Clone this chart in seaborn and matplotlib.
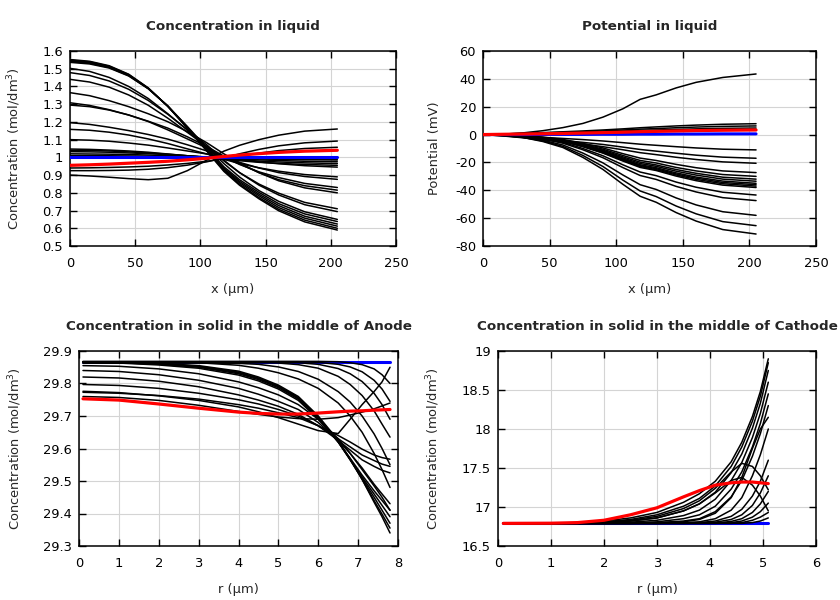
import matplotlib
matplotlib.use("Agg")
import matplotlib.pyplot as plt
import pandas as pd
import seaborn as sns
from matplotlib.ticker import FuncFormatter, MultipleLocator

sns.set_theme(style="white")
plt.rcParams["font.family"] = ["DejaVu Sans"]

# ---------------- Panel 1: concentration in liquid ----------------
X_LIQ = [0, 15, 30, 45, 60, 75, 90, 105, 118, 130, 145, 160, 180, 205]
CONC_LIQ_BLACK = [
    [1.552, 1.542, 1.517, 1.469, 1.392, 1.288, 1.164, 1.034, 0.921, 0.843, 0.766, 0.699, 0.636, 0.590],
    [1.548, 1.539, 1.514, 1.467, 1.390, 1.288, 1.166, 1.038, 0.926, 0.849, 0.773, 0.707, 0.646, 0.600],
    [1.544, 1.535, 1.511, 1.464, 1.389, 1.289, 1.168, 1.043, 0.933, 0.857, 0.783, 0.717, 0.657, 0.612],
    [1.540, 1.531, 1.507, 1.461, 1.388, 1.289, 1.171, 1.047, 0.939, 0.865, 0.792, 0.728, 0.668, 0.624],
    [1.536, 1.527, 1.504, 1.459, 1.387, 1.290, 1.174, 1.053, 0.947, 0.874, 0.802, 0.739, 0.681, 0.638],
    [1.502, 1.485, 1.451, 1.400, 1.332, 1.246, 1.153, 1.059, 0.965, 0.889, 0.812, 0.752, 0.693, 0.650],
    [1.478, 1.462, 1.431, 1.384, 1.321, 1.243, 1.157, 1.070, 0.984, 0.914, 0.843, 0.788, 0.733, 0.694],
    [1.440, 1.425, 1.396, 1.352, 1.294, 1.221, 1.141, 1.060, 0.980, 0.914, 0.849, 0.798, 0.746, 0.710],
    [1.365, 1.348, 1.320, 1.286, 1.246, 1.201, 1.145, 1.082, 1.020, 0.969, 0.913, 0.868, 0.828, 0.800],
    [1.308, 1.293, 1.269, 1.239, 1.204, 1.165, 1.116, 1.061, 1.007, 0.963, 0.914, 0.874, 0.840, 0.815],
    [1.295, 1.286, 1.267, 1.239, 1.202, 1.155, 1.104, 1.053, 1.002, 0.960, 0.918, 0.886, 0.853, 0.830],
    [1.196, 1.186, 1.170, 1.151, 1.129, 1.103, 1.071, 1.036, 1.001, 0.972, 0.940, 0.914, 0.892, 0.876],
    [1.158, 1.153, 1.142, 1.126, 1.104, 1.078, 1.048, 1.019, 0.989, 0.965, 0.941, 0.922, 0.903, 0.890],
    [1.100, 1.097, 1.091, 1.081, 1.069, 1.053, 1.036, 1.019, 1.002, 0.988, 0.974, 0.964, 0.953, 0.945],
    [1.047, 1.045, 1.041, 1.036, 1.029, 1.019, 1.009, 0.999, 0.989, 0.981, 0.972, 0.966, 0.960, 0.955],
    [1.040, 1.039, 1.036, 1.031, 1.025, 1.018, 1.009, 1.001, 0.993, 0.986, 0.979, 0.974, 0.969, 0.965],
    [1.032, 1.031, 1.029, 1.025, 1.021, 1.015, 1.009, 1.002, 0.996, 0.991, 0.986, 0.982, 0.978, 0.975],
    [1.020, 1.019, 1.018, 1.016, 1.013, 1.010, 1.006, 1.002, 0.998, 0.995, 0.992, 0.989, 0.987, 0.985],
    [1.010, 1.010, 1.009, 1.008, 1.006, 1.004, 1.002, 1.000, 0.997, 0.996, 0.994, 0.992, 0.991, 0.990],
    [0.900, 0.895, 0.888, 0.880, 0.874, 0.882, 0.925, 0.985, 1.035, 1.068, 1.100, 1.125, 1.148, 1.160],
    [0.925, 0.925, 0.926, 0.928, 0.933, 0.942, 0.956, 0.975, 0.997, 1.020, 1.045, 1.065, 1.082, 1.092],
    [0.940, 0.941, 0.943, 0.946, 0.950, 0.957, 0.966, 0.978, 0.992, 1.007, 1.024, 1.038, 1.050, 1.057],
]
CONC_LIQ_BLUE = [1.000, 1.000, 1.000, 1.000, 1.000, 1.000, 1.000, 1.000, 1.000, 1.000, 1.000, 1.000, 1.000, 1.000]
CONC_LIQ_RED = [0.955, 0.958, 0.962, 0.967, 0.972, 0.978, 0.986, 0.995, 1.005, 1.013, 1.021, 1.028, 1.035, 1.040]

# ---------------- Panel 2: potential in liquid ----------------
POT_LIQ_BLACK = [
    [0, -0.6, -2.1, -5.0, -9.3, -16.4, -25.0, -35.7, -44.3, -48.6, -56.0, -62.1, -68.2, -71.4],
    [0, -0.5, -2.0, -4.6, -8.5, -15.0, -22.9, -32.7, -40.5, -44.5, -51.3, -56.9, -62.5, -65.4],
    [0, -0.5, -1.7, -4.1, -7.5, -13.3, -20.3, -29.0, -36.0, -39.4, -45.5, -50.5, -55.4, -58.0],
    [0, -0.4, -1.4, -3.3, -6.2, -10.9, -16.6, -23.7, -29.4, -32.2, -37.2, -41.2, -45.3, -47.4],
    [0, -0.3, -1.3, -3.0, -5.6, -10.0, -15.2, -21.7, -26.9, -29.5, -34.1, -37.8, -41.4, -43.4],
    [0, -0.3, -1.1, -2.7, -4.9, -8.7, -13.3, -19.0, -23.6, -25.8, -29.8, -33.1, -36.3, -38.0],
    [0, -0.3, -1.1, -2.6, -4.8, -8.5, -13.0, -18.5, -22.9, -25.2, -29.0, -32.2, -35.3, -37.0],
    [0, -0.3, -1.1, -2.5, -4.7, -8.3, -12.6, -18.0, -22.3, -24.5, -28.3, -31.3, -34.4, -36.0],
    [0, -0.3, -1.1, -2.5, -4.6, -8.1, -12.3, -17.5, -21.7, -23.8, -27.5, -30.5, -33.4, -35.0],
    [0, -0.3, -1.0, -2.3, -4.4, -7.7, -11.7, -16.8, -20.8, -22.8, -26.3, -29.1, -32.0, -33.5],
    [0, -0.3, -1.0, -2.2, -4.2, -7.4, -11.2, -16.0, -19.8, -21.8, -25.1, -27.8, -30.6, -32.0],
    [0, -0.2, -0.9, -2.1, -3.9, -6.9, -10.5, -15.0, -18.6, -20.4, -23.6, -26.1, -28.7, -30.0],
    [0, -0.2, -0.8, -1.9, -3.5, -6.3, -9.6, -13.7, -16.9, -18.6, -21.4, -23.8, -26.1, -27.3],
    [0, -1.0, -2.3, -3.7, -5.2, -6.8, -8.7, -10.9, -13.0, -14.4, -16.3, -17.9, -19.6, -20.6],
    [0, -0.9, -1.9, -3.1, -4.3, -5.6, -7.1, -9.0, -10.7, -11.9, -13.4, -14.8, -16.2, -17.0],
    [0, -0.6, -1.2, -2.0, -2.8, -3.6, -4.6, -5.8, -6.9, -7.7, -8.7, -9.6, -10.5, -11.0],
    [0, 0.4, 0.9, 1.4, 2.0, 2.6, 3.3, 4.1, 4.9, 5.5, 6.2, 6.8, 7.4, 7.8],
    [0, 0.3, 0.7, 1.1, 1.6, 2.0, 2.6, 3.3, 3.9, 4.3, 4.9, 5.4, 5.9, 6.2],
    [0, 0.2, 0.5, 0.8, 1.2, 1.6, 2.0, 2.5, 3.0, 3.3, 3.7, 4.1, 4.5, 4.7],
    [0, 0.3, 1.2, 2.8, 5.0, 8.0, 12.5, 18.5, 25.3, 28.5, 33.5, 37.5, 41.0, 43.5],
]
POT_LIQ_BLUE = [0, 0, 0, 0.1, 0.1, 0.1, 0.2, 0.2, 0.3, 0.3, 0.4, 0.4, 0.5, 0.5]
POT_LIQ_RED = [0, 0.2, 0.4, 0.6, 0.8, 1.1, 1.4, 1.7, 2.1, 2.3, 2.6, 2.9, 3.1, 3.3]

# ---------------- Panel 3: solid, anode ----------------
R_AN = [0.1, 1, 2, 3, 4, 4.5, 5, 5.5, 6, 6.5, 6.8, 7.1, 7.4, 7.6, 7.8]
CONC_AN_BLACK = [
    [29.868, 29.868, 29.868, 29.868, 29.868, 29.868, 29.868, 29.868, 29.868, 29.867, 29.864, 29.858, 29.845, 29.827, 29.800],
    [29.867, 29.867, 29.867, 29.867, 29.867, 29.867, 29.867, 29.867, 29.865, 29.859, 29.851, 29.836, 29.810, 29.783, 29.745],
    [29.866, 29.866, 29.866, 29.866, 29.866, 29.866, 29.866, 29.864, 29.859, 29.846, 29.830, 29.806, 29.770, 29.735, 29.690],
    [29.864, 29.864, 29.864, 29.864, 29.864, 29.864, 29.863, 29.858, 29.847, 29.822, 29.797, 29.763, 29.716, 29.675, 29.635],
    [29.863, 29.863, 29.863, 29.863, 29.862, 29.859, 29.851, 29.837, 29.813, 29.775, 29.743, 29.700, 29.645, 29.600, 29.550],
    [29.865, 29.865, 29.865, 29.864, 29.856, 29.847, 29.833, 29.814, 29.785, 29.740, 29.700, 29.650, 29.585, 29.535, 29.480],
    [29.866, 29.866, 29.862, 29.855, 29.838, 29.820, 29.795, 29.760, 29.700, 29.625, 29.568, 29.505, 29.435, 29.390, 29.340],
    [29.866, 29.865, 29.861, 29.853, 29.835, 29.817, 29.792, 29.757, 29.697, 29.622, 29.566, 29.505, 29.440, 29.398, 29.355],
    [29.865, 29.864, 29.860, 29.852, 29.833, 29.815, 29.790, 29.755, 29.695, 29.620, 29.565, 29.508, 29.450, 29.410, 29.370],
    [29.865, 29.864, 29.859, 29.850, 29.830, 29.812, 29.787, 29.752, 29.693, 29.620, 29.567, 29.512, 29.460, 29.425, 29.390],
    [29.864, 29.863, 29.857, 29.847, 29.826, 29.808, 29.783, 29.748, 29.690, 29.620, 29.570, 29.518, 29.470, 29.440, 29.410],
    [29.855, 29.853, 29.845, 29.830, 29.805, 29.787, 29.765, 29.735, 29.690, 29.630, 29.585, 29.535, 29.485, 29.450, 29.410],
    [29.840, 29.837, 29.827, 29.810, 29.785, 29.767, 29.745, 29.720, 29.680, 29.625, 29.585, 29.540, 29.490, 29.460, 29.430],
    [29.820, 29.817, 29.807, 29.790, 29.765, 29.749, 29.730, 29.705, 29.670, 29.625, 29.595, 29.565, 29.545, 29.533, 29.525],
    [29.797, 29.794, 29.785, 29.770, 29.750, 29.737, 29.720, 29.700, 29.670, 29.630, 29.605, 29.580, 29.563, 29.552, 29.545],
    [29.773, 29.770, 29.763, 29.752, 29.735, 29.724, 29.710, 29.695, 29.670, 29.640, 29.620, 29.598, 29.580, 29.572, 29.567],
    [29.776, 29.772, 29.762, 29.748, 29.728, 29.713, 29.695, 29.675, 29.655, 29.646, 29.690, 29.735, 29.775, 29.805, 29.850],
    [29.760, 29.757, 29.748, 29.733, 29.714, 29.705, 29.697, 29.692, 29.690, 29.695, 29.703, 29.712, 29.722, 29.731, 29.740],
]
CONC_AN_BLUE = [29.865, 29.865, 29.865, 29.865, 29.865, 29.865, 29.865, 29.865, 29.865, 29.865, 29.865, 29.865, 29.865, 29.865, 29.865]
CONC_AN_RED = [29.753, 29.749, 29.737, 29.724, 29.712, 29.708, 29.706, 29.706, 29.709, 29.713, 29.715, 29.716, 29.718, 29.719, 29.720]

# ---------------- Panel 4: solid, cathode ----------------
R_CA = [0.1, 1, 1.5, 2, 2.5, 3, 3.5, 3.8, 4.1, 4.4, 4.6, 4.8, 4.95, 5.1]
CONC_CA_BLACK = [
    [16.79, 16.795, 16.80, 16.82, 16.86, 16.93, 17.06, 17.17, 17.33, 17.58, 17.83, 18.16, 18.48, 18.90],
    [16.79, 16.79, 16.795, 16.81, 16.84, 16.90, 17.01, 17.11, 17.27, 17.52, 17.77, 18.10, 18.42, 18.85],
    [16.79, 16.79, 16.79, 16.80, 16.82, 16.86, 16.95, 17.04, 17.19, 17.44, 17.68, 18.01, 18.33, 18.75],
    [16.79, 16.79, 16.79, 16.795, 16.805, 16.83, 16.89, 16.96, 17.10, 17.34, 17.57, 17.89, 18.20, 18.60],
    [16.79, 16.79, 16.79, 16.79, 16.795, 16.81, 16.85, 16.90, 17.01, 17.23, 17.45, 17.77, 18.07, 18.45],
    [16.79, 16.79, 16.79, 16.79, 16.79, 16.80, 16.82, 16.85, 16.94, 17.13, 17.34, 17.65, 17.94, 18.30],
    [16.79, 16.79, 16.79, 16.79, 16.79, 16.795, 16.81, 16.84, 16.92, 17.12, 17.38, 17.75, 18.00, 18.15],
    [16.79, 16.79, 16.79, 16.79, 16.79, 16.79, 16.80, 16.81, 16.85, 16.96, 17.12, 17.40, 17.67, 18.00],
    [16.79, 16.79, 16.79, 16.79, 16.79, 16.79, 16.795, 16.80, 16.82, 16.88, 16.97, 17.14, 17.33, 17.60],
    [16.79, 16.79, 16.79, 16.79, 16.79, 16.79, 16.79, 16.795, 16.805, 16.84, 16.90, 17.02, 17.18, 17.40],
    [16.79, 16.79, 16.79, 16.79, 16.79, 16.79, 16.79, 16.79, 16.795, 16.815, 16.85, 16.93, 17.04, 17.20],
    [16.79, 16.79, 16.79, 16.79, 16.79, 16.79, 16.79, 16.79, 16.79, 16.80, 16.82, 16.87, 16.94, 17.05],
    [16.79, 16.79, 16.79, 16.79, 16.79, 16.79, 16.79, 16.79, 16.79, 16.79, 16.80, 16.83, 16.87, 16.93],
    [16.79, 16.79, 16.79, 16.79, 16.79, 16.79, 16.79, 16.79, 16.79, 16.79, 16.79, 16.80, 16.82, 16.86],
    [16.79, 16.79, 16.795, 16.805, 16.83, 16.88, 16.98, 17.08, 17.24, 17.45, 17.56, 17.52, 17.40, 17.22],
    [16.79, 16.79, 16.795, 16.80, 16.82, 16.86, 16.95, 17.04, 17.18, 17.34, 17.38, 17.28, 17.14, 16.95],
]
CONC_CA_BLUE = [16.79, 16.79, 16.79, 16.79, 16.79, 16.79, 16.79, 16.79, 16.79, 16.79, 16.79, 16.79, 16.79, 16.79]
CONC_CA_RED = [16.79, 16.792, 16.80, 16.83, 16.90, 16.99, 17.13, 17.21, 17.28, 17.31, 17.32, 17.32, 17.31, 17.30]

TITLES = ["Concentration in liquid", "Potential in liquid",
          "Concentration in solid in the middle of Anode",
          "Concentration in solid in the middle of Cathode"]
CONC_LABEL = "Concentration (mol/dm$^3$)"

FS = 9.4


def to_long(xs, curves):
    rows = []
    for i, c in enumerate(curves):
        for x, y in zip(xs, c):
            rows.append((i, x, y))
    return pd.DataFrame(rows, columns=["curve", "x", "y"])


def draw(ax, xs, black, blue, red, blue_under):
    df = to_long(xs, black)
    sns.lineplot(data=df, x="x", y="y", units="curve", estimator=None,
                 color="black", lw=1.1, ax=ax, legend=False, sort=False, zorder=3)
    sns.lineplot(x=xs, y=blue, color="#0000ff", lw=2.2, ax=ax, sort=False,
                 zorder=2 if blue_under else 4)
    sns.lineplot(x=xs, y=red, color="#ff0000", lw=2.3, ax=ax, sort=False, zorder=5)


def fmt(v, p):
    return f"{round(v, 6):g}"


def style(ax, xlim, ylim, xstep, ystep, title, xlabel, ylabel, ylpad):
    ax.set_xlim(*xlim)
    ax.set_ylim(*ylim)
    ax.xaxis.set_major_locator(MultipleLocator(xstep))
    ax.yaxis.set_major_locator(MultipleLocator(ystep))
    ax.xaxis.set_major_formatter(FuncFormatter(fmt))
    ax.yaxis.set_major_formatter(FuncFormatter(fmt))
    ax.grid(True, color="#d4d4d4", lw=0.8, zorder=0)
    ax.set_axisbelow(True)
    ax.tick_params(axis="both", direction="in", top=True, right=True, length=5,
                   width=1, colors="black", labelsize=FS, bottom=True, left=True)
    ax.tick_params(axis="x", pad=8)
    ax.tick_params(axis="y", pad=5)
    for s in ax.spines.values():
        s.set_color("black")
        s.set_linewidth(1.1)
    ax.set_title(title, fontsize=9.7, fontweight="bold", pad=15)
    ax.set_xlabel(xlabel, fontsize=FS, labelpad=9)
    ax.set_ylabel(ylabel, fontsize=FS, labelpad=ylpad)


fig = plt.figure(figsize=(8.4, 6.0), dpi=100)
ax1 = fig.add_axes([70 / 840, 1 - 246 / 600, 326 / 840, 195 / 600])
ax2 = fig.add_axes([483 / 840, 1 - 246 / 600, 333 / 840, 195 / 600])
ax3 = fig.add_axes([79 / 840, 1 - 546 / 600, 319 / 840, 195 / 600])
ax4 = fig.add_axes([498 / 840, 1 - 546 / 600, 318 / 840, 195 / 600])

draw(ax1, X_LIQ, CONC_LIQ_BLACK, CONC_LIQ_BLUE, CONC_LIQ_RED, False)
draw(ax2, X_LIQ, POT_LIQ_BLACK, POT_LIQ_BLUE, POT_LIQ_RED, False)
draw(ax3, R_AN, CONC_AN_BLACK, CONC_AN_BLUE, CONC_AN_RED, True)
draw(ax4, R_CA, CONC_CA_BLACK, CONC_CA_BLUE, CONC_CA_RED, True)

style(ax1, (0, 250), (0.5, 1.6), 50, 0.1, TITLES[0], "x (μm)", CONC_LABEL, 14)
style(ax2, (0, 250), (-80, 60), 50, 20, TITLES[1], "x (μm)", "Potential (mV)", 10)
style(ax3, (0, 8), (29.3, 29.9), 1, 0.1, TITLES[2], "r (μm)", CONC_LABEL, 14)
style(ax4, (0, 6), (16.5, 19), 1, 0.5, TITLES[3], "r (μm)", CONC_LABEL, 14)

fig.savefig("out.png", dpi=100, facecolor="white")
